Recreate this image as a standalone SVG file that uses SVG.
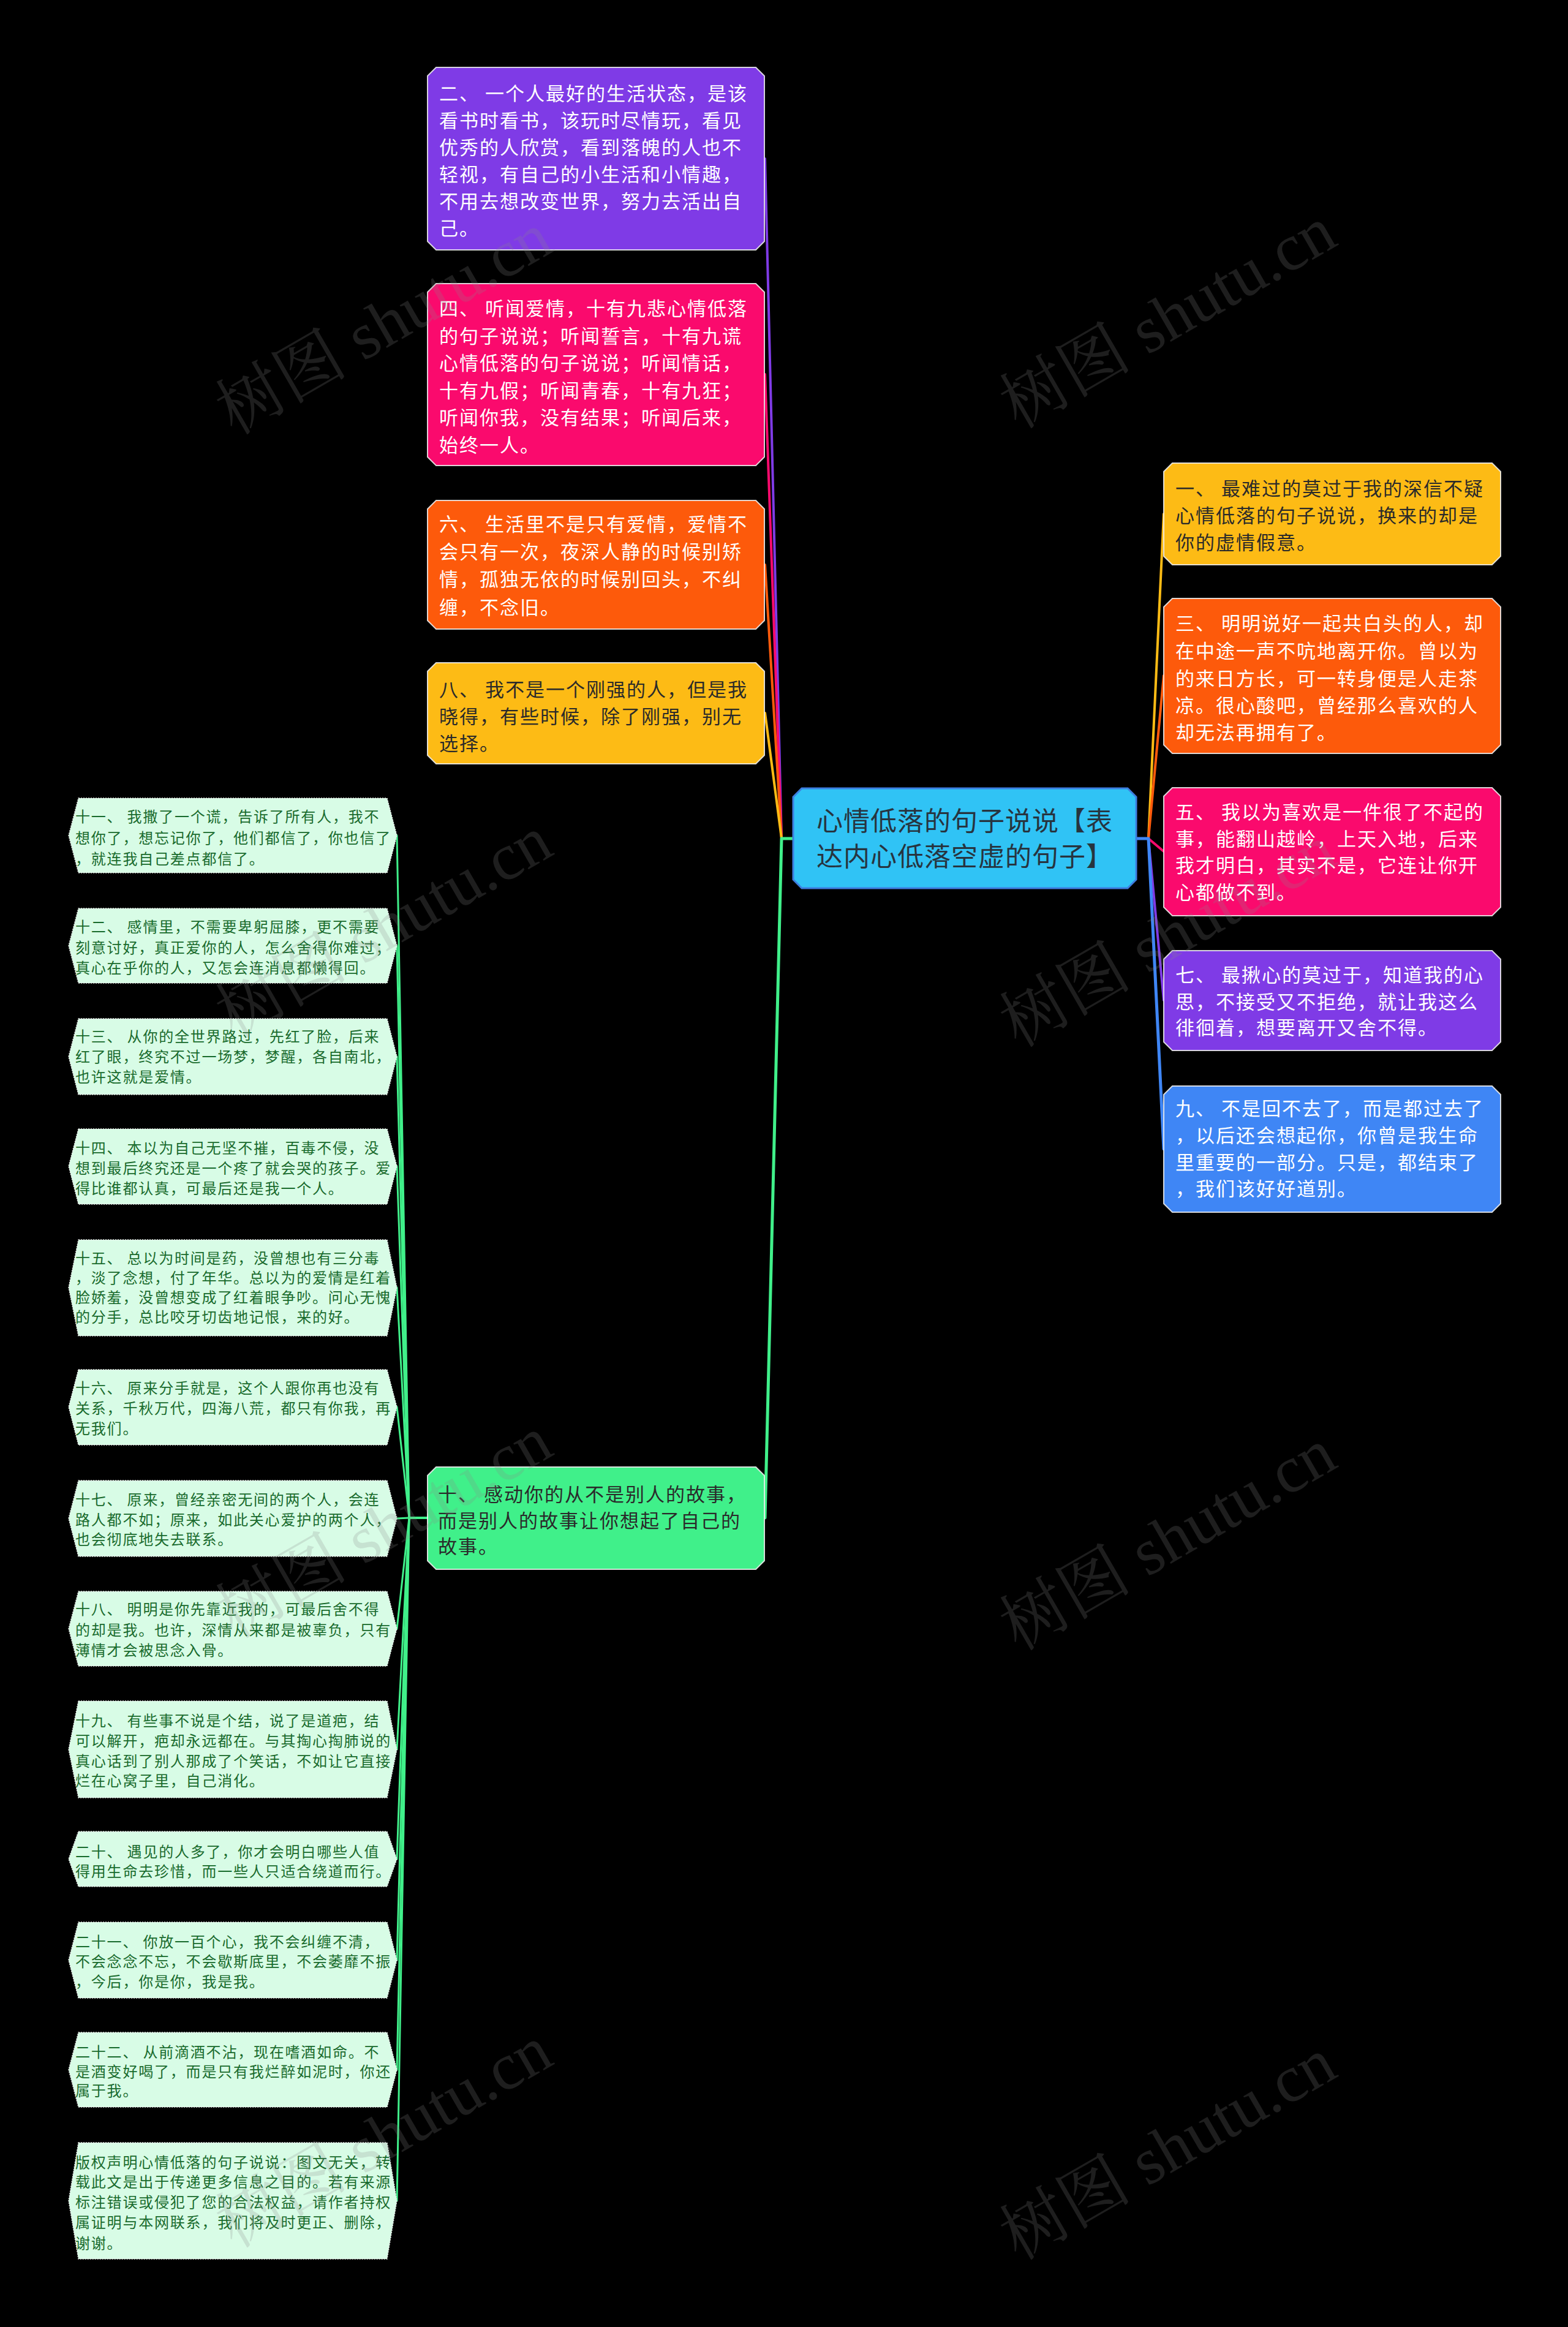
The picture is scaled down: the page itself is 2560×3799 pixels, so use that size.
<svg xmlns="http://www.w3.org/2000/svg" width="2560" height="3799" viewBox="0 0 2560 3799">
<style>
text{font-family:"Noto Sans CJK SC","Noto Sans",sans-serif}
.big{font-size:31px;letter-spacing:2px}
.w{fill:#ffffff}
.d{fill:#2a2a2a}
.sm{font-size:24px;letter-spacing:1.8px;fill:#196b2d}
.ctr{font-size:43px;letter-spacing:1px;fill:#27343f}
.nb{stroke:#f2f2f2;stroke-opacity:0.85;stroke-width:2}
.hex{fill:#d8fce6;stroke:#e6e6e6;stroke-width:1.5;stroke-dasharray:2 2}
.c{fill:none;stroke-linecap:round;stroke-linejoin:round}
.wm{font-family:"Liberation Serif","Noto Serif CJK SC","Noto Sans CJK SC",serif;font-size:108px;fill:#888888;fill-opacity:0.22}
</style>
<rect x="0" y="0" width="2560" height="3799" fill="#000000"/>

<g id="connectors">
  <path class="c" d="M1295 1369 L1276 1369 L1249 259" stroke="#7f3be6" stroke-width="4"/>
  <path class="c" d="M1295 1369 L1276 1369 L1249 611" stroke="#fa0a6d" stroke-width="4"/>
  <path class="c" d="M1295 1369 L1276 1369 L1249 922" stroke="#fd5a0b" stroke-width="4"/>
  <path class="c" d="M1295 1369 L1276 1369 L1249 1164" stroke="#fdbb15" stroke-width="4"/>
  <path class="c" d="M1295 1369 L1276 1369 L1249 2478" stroke="#40f08a" stroke-width="5"/>
  <path class="c" d="M1855 1369 L1875 1369 L1900 839" stroke="#fdbb15" stroke-width="4"/>
  <path class="c" d="M1855 1369 L1875 1369 L1900 1103" stroke="#fd5a0b" stroke-width="4"/>
  <path class="c" d="M1855 1369 L1875 1369 L1900 1390" stroke="#fa0a6d" stroke-width="4"/>
  <path class="c" d="M1855 1369 L1875 1369 L1900 1633" stroke="#7f3be6" stroke-width="4"/>
  <path class="c" d="M1855 1369 L1875 1369 L1900 1876" stroke="#3f86f5" stroke-width="5"/>
  <g stroke="#40f08a" stroke-width="3" class="c">
    <path d="M698 2478 L668 2478 L648 1364"/>
    <path d="M698 2478 L668 2478 L648 1544"/>
    <path d="M698 2478 L668 2478 L648 1725"/>
    <path d="M698 2478 L668 2478 L648 1904"/>
    <path d="M698 2478 L668 2478 L648 2102"/>
    <path d="M698 2478 L668 2478 L648 2297"/>
    <path d="M698 2478 L668 2478 L648 2479"/>
    <path d="M698 2478 L668 2478 L648 2659"/>
    <path d="M698 2478 L668 2478 L648 2856"/>
    <path d="M698 2478 L668 2478 L648 3035"/>
    <path d="M698 2478 L668 2478 L648 3200"/>
    <path d="M698 2478 L668 2478 L648 3379"/>
    <path d="M698 2478 L668 2478 L648 3593"/>
  </g>
</g>

<g id="center">
  <polygon points="1309,1287 1841,1287 1855,1301 1855,1436 1841,1450 1309,1450 1295,1436 1295,1301" fill="#30c3f5" stroke="#3d7ee0" stroke-width="3"/>
  <text class="ctr" x="1333" y="1356">心情低落的句子说说【表</text>
  <text class="ctr" x="1333" y="1414">达内心低落空虚的句子】</text>
</g>

<g id="n2">
  <polygon class="nb" points="712,110 1234,110 1248,124 1248,394 1234,408 712,408 698,394 698,124" fill="#7f3be6"/>
  <text class="big w" x="717"><tspan x="717" y="164">二、 一个人最好的生活状态，是该</tspan><tspan x="717" y="208">看书时看书，该玩时尽情玩，看见</tspan><tspan x="717" y="252">优秀的人欣赏，看到落魄的人也不</tspan><tspan x="717" y="296">轻视，有自己的小生活和小情趣，</tspan><tspan x="717" y="340">不用去想改变世界，努力去活出自</tspan><tspan x="717" y="384">己。</tspan></text>
</g>

<g id="n4">
  <polygon class="nb" points="712,463 1234,463 1248,477 1248,746 1234,760 712,760 698,746 698,477" fill="#fa0a6d"/>
  <text class="big w"><tspan x="717" y="515">四、 听闻爱情，十有九悲心情低落</tspan><tspan x="717" y="560">的句子说说；听闻誓言，十有九谎</tspan><tspan x="717" y="604">心情低落的句子说说；听闻情话，</tspan><tspan x="717" y="649">十有九假；听闻青春，十有九狂；</tspan><tspan x="717" y="693">听闻你我，没有结果；听闻后来，</tspan><tspan x="717" y="738">始终一人。</tspan></text>
</g>

<g id="n6">
  <polygon class="nb" points="712,817 1234,817 1248,831 1248,1013 1234,1027 712,1027 698,1013 698,831" fill="#fd5a0b"/>
  <text class="big w"><tspan x="717" y="867">六、 生活里不是只有爱情，爱情不</tspan><tspan x="717" y="912">会只有一次，夜深人静的时候别矫</tspan><tspan x="717" y="957">情，孤独无依的时候别回头，不纠</tspan><tspan x="717" y="1003">缠，不念旧。</tspan></text>
</g>

<g id="n8">
  <polygon class="nb" points="712,1082 1234,1082 1248,1096 1248,1233 1234,1247 712,1247 698,1233 698,1096" fill="#fdbb15"/>
  <text class="big d"><tspan x="717" y="1137">八、 我不是一个刚强的人，但是我</tspan><tspan x="717" y="1181">晓得，有些时候，除了刚强，别无</tspan><tspan x="717" y="1225">选择。</tspan></text>
</g>

<g id="n10">
  <polygon class="nb" points="712,2395 1234,2395 1248,2409 1248,2548 1234,2562 712,2562 698,2548 698,2409" fill="#40f08a"/>
  <text class="big d"><tspan x="715" y="2451">十、 感动你的从不是别人的故事，</tspan><tspan x="715" y="2494">而是别人的故事让你想起了自己的</tspan><tspan x="715" y="2536">故事。</tspan></text>
</g>

<g id="n1">
  <polygon class="nb" points="1914,756 2436,756 2450,770 2450,908 2436,922 1914,922 1900,908 1900,770" fill="#fdbb15"/>
  <text class="big d"><tspan x="1919" y="809">一、 最难过的莫过于我的深信不疑</tspan><tspan x="1919" y="853">心情低落的句子说说，换来的却是</tspan><tspan x="1919" y="897">你的虚情假意。</tspan></text>
</g>

<g id="n3">
  <polygon class="nb" points="1914,977 2436,977 2450,991 2450,1216 2436,1230 1914,1230 1900,1216 1900,991" fill="#fd5a0b"/>
  <text class="big w"><tspan x="1919" y="1029">三、 明明说好一起共白头的人，却</tspan><tspan x="1919" y="1074">在中途一声不吭地离开你。曾以为</tspan><tspan x="1919" y="1119">的来日方长，可一转身便是人走茶</tspan><tspan x="1919" y="1163">凉。很心酸吧，曾经那么喜欢的人</tspan><tspan x="1919" y="1207">却无法再拥有了。</tspan></text>
</g>

<g id="n5">
  <polygon class="nb" points="1914,1286 2436,1286 2450,1300 2450,1481 2436,1495 1914,1495 1900,1481 1900,1300" fill="#fa0a6d"/>
  <text class="big w"><tspan x="1919" y="1337">五、 我以为喜欢是一件很了不起的</tspan><tspan x="1919" y="1381">事，能翻山越岭，上天入地，后来</tspan><tspan x="1919" y="1424">我才明白，其实不是，它连让你开</tspan><tspan x="1919" y="1468">心都做不到。</tspan></text>
</g>

<g id="n7">
  <polygon class="nb" points="1914,1552 2436,1552 2450,1566 2450,1701 2436,1715 1914,1715 1900,1701 1900,1566" fill="#7f3be6"/>
  <text class="big w"><tspan x="1919" y="1603">七、 最揪心的莫过于，知道我的心</tspan><tspan x="1919" y="1647">思，不接受又不拒绝，就让我这么</tspan><tspan x="1919" y="1689">徘徊着，想要离开又舍不得。</tspan></text>
</g>

<g id="n9">
  <polygon class="nb" points="1914,1773 2436,1773 2450,1787 2450,1965 2436,1979 1914,1979 1900,1965 1900,1787" fill="#3f86f5"/>
  <text class="big w"><tspan x="1919" y="1821">九、 不是回不去了，而是都过去了</tspan><tspan x="1919" y="1865">，以后还会想起你，你曾是我生命</tspan><tspan x="1919" y="1909">里重要的一部分。只是，都结束了</tspan><tspan x="1919" y="1952">，我们该好好道别。</tspan></text>
</g>

<g id="n11">
  <polygon class="hex" points="128,1303 632,1303 648,1364 632,1425 128,1425 112,1364"/>
  <text class="sm"><tspan x="123" y="1342">十一、 我撒了一个谎，告诉了所有人，我不</tspan><tspan x="123" y="1377">想你了，想忘记你了，他们都信了，你也信了</tspan><tspan x="123" y="1411">，就连我自己差点都信了。</tspan></text>
</g>
<g id="n12">
  <polygon class="hex" points="128,1483 632,1483 648,1544 632,1605 128,1605 112,1544"/>
  <text class="sm"><tspan x="123" y="1522">十二、 感情里，不需要卑躬屈膝，更不需要</tspan><tspan x="123" y="1556">刻意讨好，真正爱你的人，怎么舍得你难过；</tspan><tspan x="123" y="1589">真心在乎你的人，又怎会连消息都懒得回。</tspan></text>
</g>
<g id="n13">
  <polygon class="hex" points="128,1663 632,1663 648,1725 632,1787 128,1787 112,1725"/>
  <text class="sm"><tspan x="123" y="1701">十三、 从你的全世界路过，先红了脸，后来</tspan><tspan x="123" y="1734">红了眼，终究不过一场梦，梦醒，各自南北，</tspan><tspan x="123" y="1767">也许这就是爱情。</tspan></text>
</g>
<g id="n14">
  <polygon class="hex" points="128,1843 632,1843 648,1904 632,1966 128,1966 112,1904"/>
  <text class="sm"><tspan x="123" y="1883">十四、 本以为自己无坚不摧，百毒不侵，没</tspan><tspan x="123" y="1916">想到最后终究还是一个疼了就会哭的孩子。爱</tspan><tspan x="123" y="1949">得比谁都认真，可最后还是我一个人。</tspan></text>
</g>
<g id="n15">
  <polygon class="hex" points="128,2024 632,2024 648,2102 632,2181 128,2181 112,2102"/>
  <text class="sm"><tspan x="123" y="2063">十五、 总以为时间是药，没曾想也有三分毒</tspan><tspan x="123" y="2095">，淡了念想，付了年华。总以为的爱情是红着</tspan><tspan x="123" y="2127">脸娇羞，没曾想变成了红着眼争吵。问心无愧</tspan><tspan x="123" y="2159">的分手，总比咬牙切齿地记恨，来的好。</tspan></text>
</g>
<g id="n16">
  <polygon class="hex" points="128,2236 632,2236 648,2297 632,2359 128,2359 112,2297"/>
  <text class="sm"><tspan x="123" y="2275">十六、 原来分手就是，这个人跟你再也没有</tspan><tspan x="123" y="2308">关系，千秋万代，四海八荒，都只有你我，再</tspan><tspan x="123" y="2341">无我们。</tspan></text>
</g>
<g id="n17">
  <polygon class="hex" points="128,2417 632,2417 648,2479 632,2541 128,2541 112,2479"/>
  <text class="sm"><tspan x="123" y="2457">十七、 原来，曾经亲密无间的两个人，会连</tspan><tspan x="123" y="2490">路人都不如；原来，如此关心爱护的两个人，</tspan><tspan x="123" y="2522">也会彻底地失去联系。</tspan></text>
</g>
<g id="n18">
  <polygon class="hex" points="128,2598 632,2598 648,2659 632,2720 128,2720 112,2659"/>
  <text class="sm"><tspan x="123" y="2636">十八、 明明是你先靠近我的，可最后舍不得</tspan><tspan x="123" y="2670">的却是我。也许，深情从来都是被辜负，只有</tspan><tspan x="123" y="2703">薄情才会被思念入骨。</tspan></text>
</g>
<g id="n19">
  <polygon class="hex" points="128,2777 632,2777 648,2856 632,2935 128,2935 112,2856"/>
  <text class="sm"><tspan x="123" y="2818">十九、 有些事不说是个结，说了是道疤，结</tspan><tspan x="123" y="2851">可以解开，疤却永远都在。与其掏心掏肺说的</tspan><tspan x="123" y="2884">真心话到了别人那成了个笑话，不如让它直接</tspan><tspan x="123" y="2916">烂在心窝子里，自己消化。</tspan></text>
</g>
<g id="n20">
  <polygon class="hex" points="128,2990 632,2990 648,3035 632,3080 128,3080 112,3035"/>
  <text class="sm"><tspan x="123" y="3032">二十、 遇见的人多了，你才会明白哪些人值</tspan><tspan x="123" y="3064">得用生命去珍惜，而一些人只适合绕道而行。</tspan></text>
</g>
<g id="n21">
  <polygon class="hex" points="128,3138 632,3138 648,3200 632,3262 128,3262 112,3200"/>
  <text class="sm"><tspan x="123" y="3179">二十一、 你放一百个心，我不会纠缠不清，</tspan><tspan x="123" y="3211">不会念念不忘，不会歇斯底里，不会萎靡不振</tspan><tspan x="123" y="3244">，今后，你是你，我是我。</tspan></text>
</g>
<g id="n22">
  <polygon class="hex" points="128,3318 632,3318 648,3379 632,3440 128,3440 112,3379"/>
  <text class="sm"><tspan x="123" y="3359">二十二、 从前滴酒不沾，现在嗜酒如命。不</tspan><tspan x="123" y="3391">是酒变好喝了，而是只有我烂醉如泥时，你还</tspan><tspan x="123" y="3422">属于我。</tspan></text>
</g>
<g id="ncopyright">
  <polygon class="hex" points="128,3498 632,3498 648,3593 632,3688 128,3688 112,3593"/>
  <text class="sm"><tspan x="123" y="3539">版权声明心情低落的句子说说：图文无关，转</tspan><tspan x="123" y="3571">载此文是出于传递更多信息之目的。若有来源</tspan><tspan x="123" y="3604">标注错误或侵犯了您的合法权益，请作者持权</tspan><tspan x="123" y="3637">属证明与本网联系，我们将及时更正、删除，</tspan><tspan x="123" y="3671">谢谢。</tspan></text>
</g>

<g id="watermarks">
  <text class="wm" text-anchor="middle" transform="translate(645 560) rotate(-30)">树图 shutu.cn</text>
  <text class="wm" text-anchor="middle" transform="translate(1925 550) rotate(-30)">树图 shutu.cn</text>
  <text class="wm" text-anchor="middle" transform="translate(645 1545) rotate(-30)">树图 shutu.cn</text>
  <text class="wm" text-anchor="middle" transform="translate(1925 1560) rotate(-30)">树图 shutu.cn</text>
  <text class="wm" text-anchor="middle" transform="translate(645 2525) rotate(-30)">树图 shutu.cn</text>
  <text class="wm" text-anchor="middle" transform="translate(1925 2545) rotate(-30)">树图 shutu.cn</text>
  <text class="wm" text-anchor="middle" transform="translate(645 3520) rotate(-30)">树图 shutu.cn</text>
  <text class="wm" text-anchor="middle" transform="translate(1925 3540) rotate(-30)">树图 shutu.cn</text>
</g>
</svg>
